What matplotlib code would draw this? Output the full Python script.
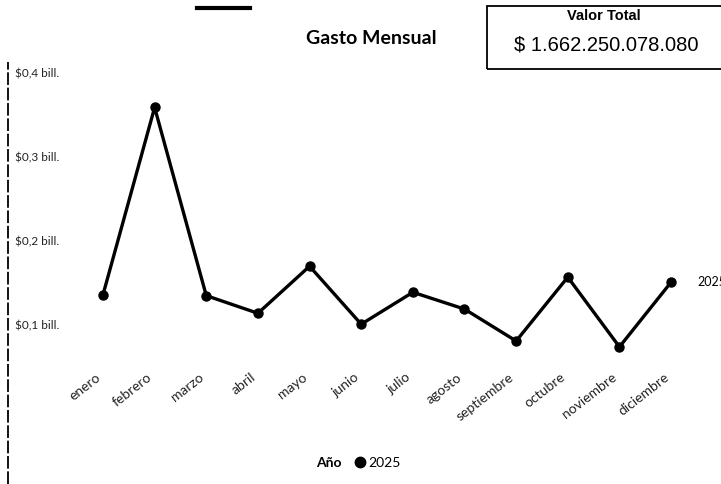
import matplotlib.pyplot as plt
from matplotlib.lines import Line2D
from matplotlib.patches import Rectangle
import matplotlib.transforms as mtransforms

# monthly spend, 2025 (billones)
meses = ["enero", "febrero", "marzo", "abril", "mayo", "junio", "julio",
         "agosto", "septiembre", "octubre", "noviembre", "diciembre"]
gasto = [0.136, 0.359, 0.135, 0.114, 0.170, 0.101, 0.139,
         0.119, 0.081, 0.157, 0.074, 0.151]
yticks = [0.1, 0.2, 0.3, 0.4]
ytick_labels = ["$0,1 bill.", "$0,2 bill.", "$0,3 bill.", "$0,4 bill."]
serie = "2025"
valor_total = "$ 1.662.250.078.080"

W, H = 721, 484
fig = plt.figure(figsize=(W / 100, H / 100), dpi=100)
plt.rcParams['font.family'] = ['Lato', 'DejaVu Sans']

# plot area in pixels
left_px, right_px, top_px, bot_px = 80, 700, 60, 362
ax = fig.add_axes([left_px / W, 1 - bot_px / H,
                   (right_px - left_px) / W, (bot_px - top_px) / H])

x = list(range(len(meses)))
ax.plot(x, gasto, color='black', lw=2.4, marker='o', markersize=6.5)

ax.set_xlim(-0.445, 11.56)
ax.set_ylim(0.056, 0.4155)
for s in ax.spines.values():
    s.set_visible(False)

ax.set_yticks(yticks)
ax.set_yticklabels(ytick_labels, fontsize=8.5, color='#222222')
ax.tick_params(axis='y', length=0, pad=47)
for lab in ax.get_yticklabels():
    lab.set_horizontalalignment('left')

ax.set_xticks(x)
ax.set_xticklabels(meses, fontsize=10, rotation=38, ha='right', va='center',
                   rotation_mode='anchor', color='#222222')
ax.tick_params(axis='x', length=0, pad=10)
shift = mtransforms.ScaledTranslation(-4 / 100, 0, fig.dpi_scale_trans)
for lab in ax.get_xticklabels():
    lab.set_transform(lab.get_transform() + shift)

# series label at end of line (cut by the figure edge, as in the source)
ax.annotate(serie, xy=(x[-1], gasto[-1]), xytext=(19, 0),
            textcoords='offset points', fontsize=9, va='center',
            annotation_clip=False, clip_on=False)

# title
fig.text(371 / W, 1 - 38 / H, "Gasto Mensual", fontsize=14,
         fontweight='bold', ha='center', va='center')

# total value card
fig.add_artist(Rectangle((487 / W, 1 - 69 / H), 240 / W, 63 / H,
                         transform=fig.transFigure, fill=False,
                         edgecolor='black', lw=1.3))
fig.text(604 / W, 1 - 16 / H, "Valor Total", fontsize=10.5, fontweight='bold',
         ha='center', va='center', family='Liberation Sans')
fig.text(606 / W, 1 - 45 / H, valor_total, fontsize=14.5,
         ha='center', va='center', family='Liberation Sans')

# legend
fig.text(329 / W, 1 - 463 / H, "Año", fontsize=10, fontweight='bold',
         ha='center', va='center')
handle = Line2D([], [], color='black', marker='o', ls='', markersize=7.5)
fig.legend([handle], [serie], loc='center', bbox_to_anchor=(378 / W, 1 - 463 / H),
           frameon=False, fontsize=10, handlelength=0.8, handletextpad=0.2,
           borderpad=0, borderaxespad=0)

# scan marks
fig.add_artist(Line2D([8 / W, 8 / W], [0, 1 - 62 / H], color='black',
                      lw=1.3, ls=(0, (7, 1.5))))
fig.add_artist(Line2D([197 / W, 250 / W], [1 - 8 / H, 1 - 8 / H],
                      color='black', lw=3))

fig.savefig("out.png", dpi=100)
